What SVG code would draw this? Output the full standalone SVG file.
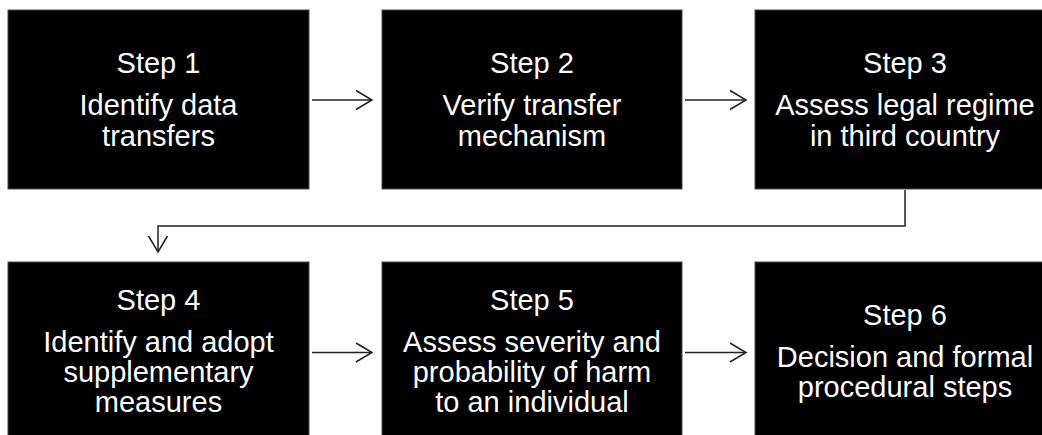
<svg xmlns="http://www.w3.org/2000/svg" width="1042" height="435" viewBox="0 0 1042 435">
<defs>
<style>
.box{fill:#000;stroke:#4a4a4a;stroke-width:1}
.t{font-family:"Liberation Sans",Arial,sans-serif;font-size:29px;fill:#fff;text-anchor:middle}
.c{fill:none;stroke:#222;stroke-width:1.5}
</style>
<marker id="ah" markerUnits="userSpaceOnUse" markerWidth="20" markerHeight="22" refX="17" refY="10" orient="auto" viewBox="0 0 20 20">
<path d="M1,0.5 L17,10 L1,19.5" fill="none" stroke="#222" stroke-width="1.5"/>
</marker>
</defs>
<rect width="1042" height="435" fill="#fff"/>
<g id="connectors">
<path class="c" d="M312,100 H372" marker-end="url(#ah)"/>
<path class="c" d="M685,100 H746" marker-end="url(#ah)"/>
<path class="c" d="M905,190 V226 H158 V252" marker-end="url(#ah)"/>
<path class="c" d="M312,352.5 H372" marker-end="url(#ah)"/>
<path class="c" d="M685,352.5 H746" marker-end="url(#ah)"/>
</g>
<g id="step1">
<rect class="box" x="8" y="10" width="301" height="179"/>
<text class="t" x="158.5" y="73">Step 1</text>
<text class="t" x="158.5" y="115">Identify data</text>
<text class="t" x="158.5" y="145.5">transfers</text>
</g>
<g id="step2">
<rect class="box" x="382" y="10" width="300" height="179"/>
<text class="t" x="532" y="73">Step 2</text>
<text class="t" x="532" y="115">Verify transfer</text>
<text class="t" x="532" y="145.5">mechanism</text>
</g>
<g id="step3">
<rect class="box" x="755" y="10" width="300" height="179"/>
<text class="t" x="905" y="73">Step 3</text>
<text class="t" x="905" y="115">Assess legal regime</text>
<text class="t" x="905" y="145.5">in third country</text>
</g>
<g id="step4">
<rect class="box" x="8" y="262" width="301" height="179"/>
<text class="t" x="158.5" y="310">Step 4</text>
<text class="t" x="158.5" y="351.5">Identify and adopt</text>
<text class="t" x="158.5" y="382">supplementary</text>
<text class="t" x="158.5" y="412">measures</text>
</g>
<g id="step5">
<rect class="box" x="382" y="262" width="300" height="179"/>
<text class="t" x="532" y="310">Step 5</text>
<text class="t" x="532" y="351.5">Assess severity and</text>
<text class="t" x="532" y="382">probability of harm</text>
<text class="t" x="532" y="412">to an individual</text>
</g>
<g id="step6">
<rect class="box" x="755" y="262" width="300" height="179"/>
<text class="t" x="905" y="324.5">Step 6</text>
<text class="t" x="905" y="366.5">Decision and formal</text>
<text class="t" x="905" y="397">procedural steps</text>
</g>
</svg>
